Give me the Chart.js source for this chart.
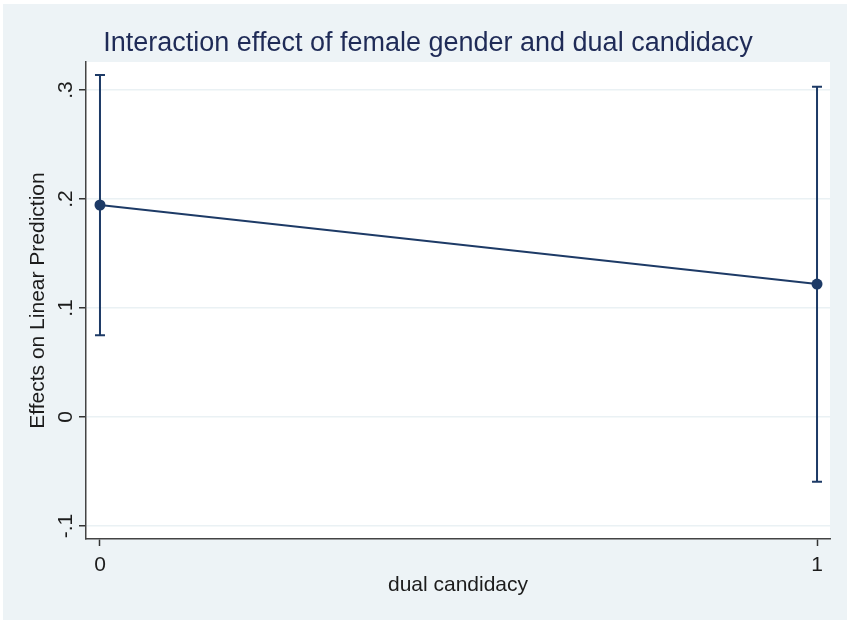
<!DOCTYPE html>
<html>
<head>
<meta charset="utf-8">
<script src="https://cdn.jsdelivr.net/npm/chart.js@4/dist/chart.umd.min.js"></script>
<style>
  html, body { margin: 0; padding: 0; background: #ffffff; }
  #wrap { width: 847px; height: 620px; }
</style>
</head>
<body>
<div id="wrap"><canvas id="c" width="847" height="620"></canvas></div>
<script>
const categories = [0, 1]
const margins = [0.1945, 0.122]
const ciLow = [0.075, -0.0594]
const ciHigh = [0.3138, 0.303]
const yTicks = [-0.1, 0, 0.1, 0.2, 0.3]
const xTicks = [0, 1]

const navy = '#1d3a66'
const axisText = '#1c1c1c'
const fontFamily = 'Liberation Sans, Arial, sans-serif'

// stata style background: pale outer region, white plot region
const backgroundPlugin = {
  id: 'stataBackground',
  beforeDraw(chart) {
    const { ctx, chartArea } = chart
    ctx.save()
    ctx.fillStyle = '#ffffff'
    ctx.fillRect(0, 0, chart.width, chart.height)
    ctx.fillStyle = '#edf3f6'
    ctx.fillRect(3, 4, chart.width - 3, chart.height - 4)
    ctx.fillStyle = '#ffffff'
    ctx.fillRect(chartArea.left, chartArea.top, chartArea.right - chartArea.left, chartArea.bottom - chartArea.top)
    ctx.restore()
  },
}

// capped confidence interval spikes
const errorBarPlugin = {
  id: 'ciBars',
  afterDatasetsDraw(chart) {
    const { ctx, scales } = chart
    ctx.save()
    ctx.strokeStyle = navy
    ctx.lineWidth = 2
    categories.forEach((c, i) => {
      const x = scales.x.getPixelForValue(c)
      const y1 = scales.y.getPixelForValue(ciLow[i])
      const y2 = scales.y.getPixelForValue(ciHigh[i])
      ctx.beginPath()
      ctx.moveTo(x, y1)
      ctx.lineTo(x, y2)
      ctx.moveTo(x - 5, y1)
      ctx.lineTo(x + 5, y1)
      ctx.moveTo(x - 5, y2)
      ctx.lineTo(x + 5, y2)
      ctx.stroke()
    })
    ctx.restore()
  },
}

const ctx = document.getElementById('c')
const chart = new Chart(ctx, {
  type: 'line',
  data: {
    datasets: [
      {
        label: 'margins',
        data: categories.map((c, i) => ({ x: c, y: margins[i] })),
        borderColor: navy,
        backgroundColor: navy,
        borderWidth: 2,
        pointRadius: 5.5,
        pointBorderWidth: 0,
        tension: 0,
      },
    ],
  },
  options: {
    responsive: false,
    animation: false,
    devicePixelRatio: 1,
    layout: {
      padding: { left: 26, right: 17, top: 0, bottom: 0 },
    },
    plugins: {
      legend: { display: false },
      tooltip: { enabled: false },
      title: {
        display: true,
        text: 'Interaction effect of female gender and dual candidacy',
        color: '#1f2b57',
        font: { family: fontFamily, size: 27, weight: 'normal' },
        padding: { top: 27, bottom: 2.6 },
      },
    },
    scales: {
      x: {
        type: 'linear',
        min: -0.0195,
        max: 1.0181,
        afterBuildTicks: (axis) => {
          axis.ticks = xTicks.map((v) => ({ value: v }))
        },
        afterFit: (axis) => {
          axis.height = 81
        },
        ticks: {
          color: axisText,
          font: { family: fontFamily, size: 21 },
          padding: 7,
          maxRotation: 0,
          callback: (v) => String(v),
        },
        grid: {
          drawOnChartArea: false,
          drawTicks: true,
          tickLength: 7,
          tickColor: '#333333',
          tickWidth: 1.5,
        },
        border: { display: true, color: '#444444', width: 1.5 },
        title: {
          display: true,
          text: 'dual candidacy',
          color: axisText,
          font: { family: fontFamily, size: 21 },
          padding: { top: 0, bottom: 22 },
        },
      },
      y: {
        type: 'linear',
        min: -0.1119,
        max: 0.3257,
        afterBuildTicks: (axis) => {
          axis.ticks = yTicks.map((v) => ({ value: v }))
        },
        afterFit: (axis) => {
          axis.width = 60
        },
        ticks: {
          color: axisText,
          font: { family: fontFamily, size: 21 },
          minRotation: 90,
          maxRotation: 90,
          crossAlign: 'center',
          padding: 1,
          callback: (v) => {
            const r = Math.round(v * 10) / 10
            if (r === 0) return '0'
            return String(r).replace('0.', '.')
          },
        },
        grid: {
          color: '#eaf1f4',
          lineWidth: 1.5,
          tickLength: 7,
          tickColor: '#333333',
          tickWidth: 1.5,
        },
        border: { display: true, color: '#444444', width: 1.5 },
        title: {
          display: true,
          text: 'Effects on Linear Prediction',
          color: axisText,
          font: { family: fontFamily, size: 21 },
          padding: { top: 0, bottom: 0 },
        },
      },
    },
  },
  plugins: [backgroundPlugin, errorBarPlugin],
})
</script>
</body>
</html>
